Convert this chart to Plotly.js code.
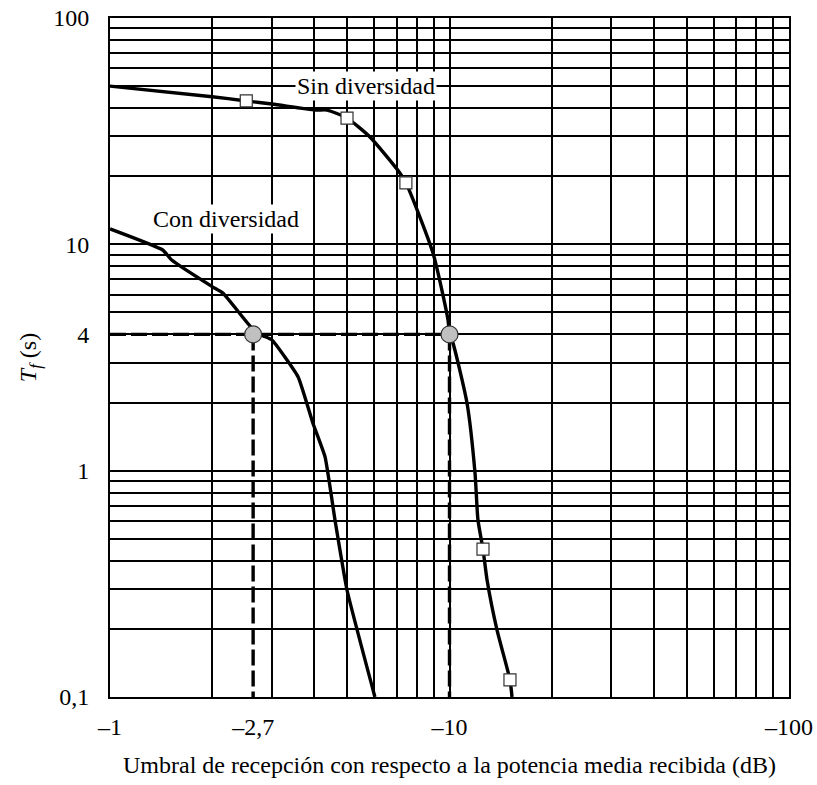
<!DOCTYPE html>
<html>
<head>
<meta charset="utf-8">
<script src="https://cdn.plot.ly/plotly-3.0.1.min.js"></script>
<style>
  html, body { margin: 0; padding: 0; background: #ffffff; }
  #chart { width: 817px; height: 785px; }
</style>
</head>
<body>
<div id="chart"></div>
<script>
// Threshold magnitude (|dB|, axis labelled with negative values) and T_f (s)
const sinX = [1.0, 2.0, 2.52, 3.0, 4.02, 4.36, 4.99, 5.83, 7.10, 7.44, 8.94, 9.9, 10.0, 10.24, 11.26, 11.89, 12.13, 12.55, 12.9, 13.8, 15.07, 15.28];
const sinY = [50.0, 44.9, 43.0, 41.7, 39.2, 39.2, 36.1, 29.8, 20.9, 18.7, 9.15, 4.63, 4.0, 3.66, 1.99, 0.976, 0.605, 0.45, 0.329, 0.198, 0.119, 0.1];
const sinMarkX = [2.52, 4.99, 7.44, 12.55, 15.07];
const sinMarkY = [43.0, 36.1, 18.7, 0.45, 0.119];

const conX = [1.0, 1.43, 1.52, 2.0, 2.15, 2.64, 2.82, 3.0, 3.58, 3.96, 4.30, 4.60, 4.99, 6.03];
const conY = [11.7, 9.44, 8.52, 6.5, 6.09, 4.2, 3.95, 3.78, 2.6, 1.62, 1.15, 0.605, 0.297, 0.1];

// Operating point for T_f = 4 s
const critT = 4;
const critXCon = 2.64;
const critXSin = 10;
const critPointsX = [critXCon, critXSin];
const critPointsY = [critT, critT];

// Axes
const xMin = 1, xMax = 100, yMin = 0.1, yMax = 100;
const xGridVals = [1,2,3,4,5,6,7,8,9,10,20,30,40,50,60,70,80,90,100];
const xLabelVals = [1, critXCon, 10, 100];
const xLabels = ['\u20131', '\u20132,7', '\u201310', '\u2013100'];
const yGridVals = [0.1,0.2,0.3,0.4,0.5,0.6,0.7,0.8,0.9,1,2,3,4,5,6,7,8,9,10,20,30,40,50,60,70,80,90,100];
const yLabelMap = {0.1: '0,1', 1: '1', 4: '4', 10: '10', 100: '100'};
const yTickText = yGridVals.map(v => (yLabelMap[v] !== undefined ? yLabelMap[v] : ' '));

const curveLabels = ['Sin diversidad', 'Con diversidad'];
const curveLabelX = [5.68, 2.2];
const curveLabelY = [50, 12.9];

// Dashed guide lines built from the operating point values
const guideX = [xMin, critXSin, null, critXCon, critXCon, null, critXSin, critXSin];
const guideY = [critT, critT, null, critT, yMin, null, critT, yMin];

const FONT = '"Liberation Serif", "Times New Roman", serif';
const log10 = Math.log10;

const traces = [
  { x: guideX, y: guideY, type: 'scatter', mode: 'lines', xaxis: 'x', yaxis: 'y',
    line: { color: '#000', width: 3.4, dash: '16px,5px' }, hoverinfo: 'skip', showlegend: false },
  { x: conX, y: conY, type: 'scatter', mode: 'lines', xaxis: 'x', yaxis: 'y',
    line: { color: '#000', width: 3.4, shape: 'spline', smoothing: 0.4 }, showlegend: false, name: curveLabels[1] },
  { x: sinX, y: sinY, type: 'scatter', mode: 'lines', xaxis: 'x', yaxis: 'y',
    line: { color: '#000', width: 3.4, shape: 'spline', smoothing: 0.6 }, showlegend: false, name: curveLabels[0] },
  { x: sinMarkX, y: sinMarkY, type: 'scatter', mode: 'markers', xaxis: 'x', yaxis: 'y',
    marker: { symbol: 'square', size: 12, color: '#fff', line: { color: '#333', width: 1.2 } },
    showlegend: false },
  { x: critPointsX, y: critPointsY, type: 'scatter', mode: 'markers', xaxis: 'x2', yaxis: 'y',
    marker: { symbol: 'circle', size: 17, color: '#c0c0c0', line: { color: '#333', width: 1.2 } },
    showlegend: false }
];

const layout = {
  width: 817, height: 785,
  margin: { l: 110, r: 28, t: 18, b: 88 },
  paper_bgcolor: '#fff', plot_bgcolor: '#fff',
  font: { family: FONT, size: 24, color: '#000' },
  showlegend: false,
  xaxis: {
    type: 'log', range: [log10(xMin), log10(xMax)],
    tickmode: 'array', tickvals: xGridVals, showticklabels: false,
    ticks: '', showgrid: true, gridcolor: '#000', gridwidth: 2,
    showline: true, linecolor: '#000', linewidth: 2, mirror: true,
    zeroline: false, fixedrange: true
  },
  xaxis2: {
    type: 'log', range: [log10(xMin), log10(xMax)], overlaying: 'x', anchor: 'y', side: 'bottom',
    tickmode: 'array', tickvals: xLabelVals, ticktext: xLabels,
    ticks: 'outside', ticklen: 8, tickcolor: 'rgba(0,0,0,0)',
    tickfont: { family: FONT, size: 24, color: '#000' },
    showgrid: false, showline: false, zeroline: false, fixedrange: true,
    title: { text: 'Umbral de recepción con respecto a la potencia media recibida (dB)',
             font: { family: FONT, size: 24, color: '#000' }, standoff: 17 },
    automargin: false
  },
  yaxis: {
    type: 'log', range: [log10(yMin), log10(yMax)],
    tickmode: 'array', tickvals: yGridVals, ticktext: yTickText,
    ticks: 'outside', ticklen: 14, tickcolor: 'rgba(0,0,0,0)',
    tickfont: { family: FONT, size: 24, color: '#000' },
    showgrid: true, gridcolor: '#000', gridwidth: 2,
    showline: true, linecolor: '#000', linewidth: 2, mirror: true,
    zeroline: false, fixedrange: true,
    title: { text: '<i>T</i><sub><i>f</i></sub> (s)', font: { family: FONT, size: 24, color: '#000' }, standoff: 10 },
    automargin: false
  },
  annotations: curveLabels.map((t, i) => ({
    text: t, x: log10(curveLabelX[i]), y: log10(curveLabelY[i]), xref: 'x', yref: 'y',
    showarrow: false, bgcolor: '#fff', borderpad: 1,
    font: { family: FONT, size: 24, color: '#000' }, xanchor: 'center', yanchor: 'middle'
  }))
};

Plotly.newPlot('chart', traces, layout, { displayModeBar: false, staticPlot: true });
</script>
</body>
</html>
